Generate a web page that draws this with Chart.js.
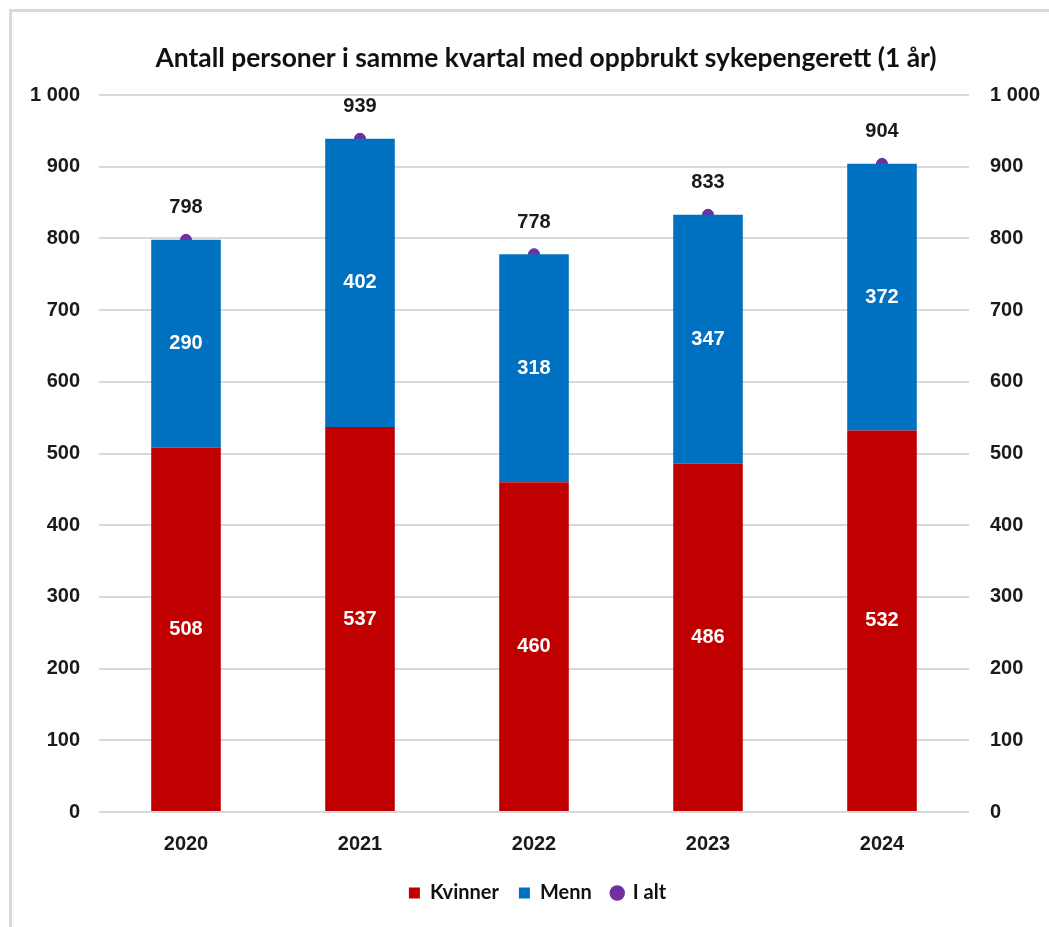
<!DOCTYPE html>
<html>
<head>
<meta charset="utf-8">
<script src="https://cdn.jsdelivr.net/npm/chart.js@4"></script>
<style>
    body { margin: 0; background: #fff; }
    #frame {
        position: absolute; left: 9px; top: 9px; right: 0; bottom: 0;
        border-left: 3px solid #d9d9d9; border-top: 3px solid #d9d9d9;
    }
    #chart { position: absolute; left: 0; top: 0; }
</style>
</head>
<body>
<div id="frame"></div>
<canvas id="chart" width="1049" height="927"></canvas>
<script>
// Chart data
const years = ["2020", "2021", "2022", "2023", "2024"];
const kvinner = [508, 537, 460, 486, 532];
const menn = [290, 402, 318, 347, 372];
const iAlt = [798, 939, 778, 833, 904];
const titleText = "Antall personer i samme kvartal med oppbrukt sykepengerett (1 år)";

const RED = "#C00000";
const BLUE = "#0070C0";
const PURPLE = "#7030A0";
const ARIAL = "'Liberation Sans', Arial, sans-serif";
const APTOS = "Lato, 'Noto Sans', sans-serif";

/**
 * Formats tick value with space as thousands separator
 * @param {Number} value tick value
 * @returns {String} formatted label
 */
function _formatTick(value) {
    return String(value).replace(/\B(?=(\d{3})+(?!\d))/g, " ");
}

// Draws values inside the bars and above the total points
const valueLabels = {
    id: "valueLabels",
    afterDatasetsDraw(chart) {
        const ctx = chart.ctx;
        ctx.save();
        ctx.textAlign = "center";
        ctx.textBaseline = "middle";
        ctx.font = `bold 20px ${ARIAL}`;
        chart.data.datasets.forEach((dataset, i) => {
            const meta = chart.getDatasetMeta(i);
            meta.data.forEach((element, j) => {
                const value = dataset.data[j];
                if (dataset.type === "line") {
                    ctx.fillStyle = "#1a1a1a";
                    ctx.fillText(String(value), element.x, element.y - 32);
                } else {
                    ctx.fillStyle = "#ffffff";
                    ctx.fillText(String(value), element.x, (element.y + element.base) / 2);
                }
            });
        });
        ctx.restore();
    },
};

// Title is a bit right of the canvas centre in the original
const offsetTitle = {
    id: "offsetTitle",
    afterDraw(chart) {
        const ctx = chart.ctx;
        ctx.save();
        ctx.textAlign = "center";
        ctx.textBaseline = "middle";
        ctx.font = `bold 26.4px ${APTOS}`;
        ctx.fillStyle = "#111";
        ctx.fillText(titleText, 546, 58);
        ctx.restore();
    },
};

const tickFont = { family: ARIAL, size: 20, weight: "bold" };

new Chart(document.getElementById("chart"), {
    type: "bar",
    data: {
        labels: years,
        datasets: [
            { label: "Kvinner", data: kvinner, backgroundColor: RED, stack: "bars", yAxisID: "y" },
            { label: "Menn", data: menn, backgroundColor: BLUE, stack: "bars", yAxisID: "y" },
            {
                type: "line",
                label: "I alt",
                data: iAlt,
                stack: "total",
                yAxisID: "y",
                showLine: false,
                pointRadius: 5.5,
                pointBackgroundColor: PURPLE,
                pointBorderColor: PURPLE,
                borderColor: PURPLE,
                backgroundColor: PURPLE,
                pointStyle: "circle",
            },
        ],
    },
    options: {
        responsive: false,
        animation: false,
        layout: { padding: { left: 26, right: 0, top: 95, bottom: 14 } },
        datasets: { bar: { categoryPercentage: 0.4, barPercentage: 1 } },
        scales: {
            x: {
                stacked: true,
                grid: { display: false },
                border: { display: false },
                ticks: { color: "#1a1a1a", font: tickFont, padding: 12 },
                afterFit: (scale) => { scale.height = 51; },
            },
            y: {
                stacked: true,
                min: 0,
                max: 1000,
                position: "left",
                border: { display: false },
                grid: { color: "#d9d9d9", lineWidth: 2, drawTicks: false },
                ticks: { stepSize: 100, color: "#1a1a1a", font: tickFont, padding: 19, callback: _formatTick },
                afterFit: (scale) => { scale.width = 73; },
            },
            y2: {
                min: 0,
                max: 1000,
                position: "right",
                border: { display: false },
                grid: { display: false, drawTicks: false },
                ticks: { stepSize: 100, color: "#1a1a1a", font: tickFont, padding: 21, callback: _formatTick },
                afterFit: (scale) => { scale.width = 80; },
            },
        },
        plugins: {
            title: { display: false },
            legend: {
                position: "bottom",
                labels: {
                    color: "#111",
                    font: { family: APTOS, size: 20, weight: "bold" },
                    usePointStyle: true,
                    boxWidth: 11,
                    boxHeight: 11,
                    padding: 20,
                    generateLabels: (chart) => {
                        const items = Chart.defaults.plugins.legend.labels.generateLabels(chart);
                        items.forEach((item) => {
                            item.pointStyle = item.datasetIndex === 2 ? "circle" : "rect";
                            item.lineWidth = 0;
                        });
                        return items;
                    },
                },
            },
            tooltip: { enabled: false },
        },
    },
    plugins: [valueLabels, offsetTitle],
});
</script>
</body>
</html>
